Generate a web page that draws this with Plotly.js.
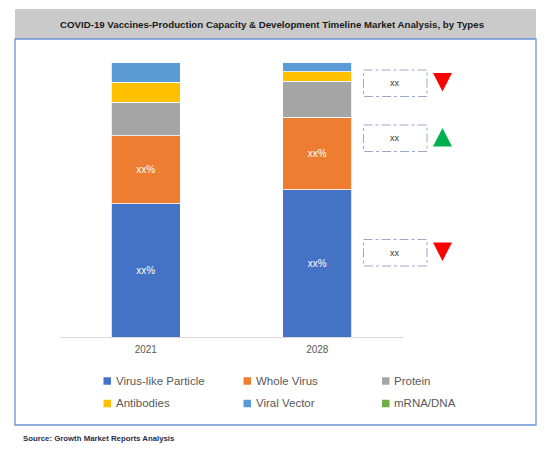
<!DOCTYPE html>
<html>
<head>
<meta charset="utf-8">
<script src="https://cdn.plot.ly/plotly-3.0.1.min.js"></script>
<style>html,body{margin:0;padding:0;background:#fff;}#chart{width:556px;height:449px;}</style>
</head>
<body>
<div id="chart"></div>
<script>
// ---- data ----
var years = ['2021', '2028'];
var seriesNames = ['Virus-like Particle', 'Whole Virus', 'Protein', 'Antibodies', 'Viral Vector', 'mRNA/DNA'];
var seriesColors = ['#4472C4', '#ED7D31', '#A5A5A5', '#FFC000', '#5B9BD5', '#70AD47'];
var virusLike   = [48.4, 53.5];
var wholeVirus  = [24.7, 26.4];
var protein     = [12.2, 13.1];
var antibodies  = [7.4, 3.5];
var viralVector = [7.3, 3.5];
var mrnaDna     = [0, 0];
var barLabels   = ['xx%', 'xx%'];
var calloutLabels = ['xx', 'xx', 'xx'];
var calloutTrend  = ['down', 'up', 'down'];
var titleText = 'COVID-19 Vaccines-Production Capacity & Development Timeline Market Analysis, by Types';
var sourceText = 'Source: Growth Market Reports Analysis';

var seriesValues = [virusLike, wholeVirus, protein, antibodies, viralVector, mrnaDna];
var labelled = [true, true, false, false, false, false];

// ---- layout helpers (pixel -> paper) ----
var W = 556, H = 449;
var M = {l: 60, r: 153, t: 62, b: 112};
var PW = W - M.l - M.r, PH = H - M.t - M.b;
function px(x) { return (x - M.l) / PW; }
function py(y) { return (H - M.b - y) / PH; }

var traces = seriesNames.map(function (name, i) {
  return {
    type: 'bar',
    name: name,
    x: years,
    y: seriesValues[i],
    width: 0.4,
    marker: {color: seriesColors[i], line: {color: '#ffffff', width: 0.8}},
    text: labelled[i] ? barLabels : years.map(function () { return ''; }),
    textposition: 'inside',
    insidetextanchor: 'middle',
    textangle: 0,
    textfont: {color: '#ffffff', size: 10, family: 'Liberation Sans, Arial, sans-serif'},
    hoverinfo: 'x+y+name',
    showlegend: false
  };
});

var shapes = [];
var annotations = [];

// frame and title band
shapes.push({type: 'rect', xref: 'paper', yref: 'paper', layer: 'below',
  x0: px(15), x1: px(536), y0: py(9), y1: py(39),
  fillcolor: '#CACACA', line: {width: 0}});
shapes.push({type: 'rect', xref: 'paper', yref: 'paper', layer: 'below',
  x0: px(15), x1: px(536), y0: py(39), y1: py(425),
  fillcolor: 'rgba(0,0,0,0)', line: {color: '#6C93D6', width: 1.3}});

annotations.push({xref: 'paper', yref: 'paper', x: px(272), y: py(24), text: '<b>' + titleText.replace('&', '&amp;') + '</b>',
  showarrow: false, xanchor: 'center', yanchor: 'middle',
  font: {size: 9.7, color: '#1a1a1a', family: 'Liberation Sans Narrow, Liberation Sans, Arial, sans-serif'}});
annotations.push({xref: 'paper', yref: 'paper', x: px(21), y: py(438), text: '<b>' + sourceText + '</b>',
  showarrow: false, xanchor: 'left', yanchor: 'middle',
  font: {size: 7.8, color: '#1F2F4F', family: 'Liberation Sans Narrow, Liberation Sans, Arial, sans-serif'}});

// callout boxes with trend triangles
var boxTops = [70, 125, 239.5];
calloutLabels.forEach(function (lab, i) {
  var t = boxTops[i], b = t + 26.5;
  shapes.push({type: 'rect', xref: 'paper', yref: 'paper',
    x0: px(363.5), x1: px(427), y0: py(t), y1: py(b),
    fillcolor: 'rgba(0,0,0,0)', line: {color: '#9AAAC8', width: 1, dash: 'dashdot'}});
  annotations.push({xref: 'paper', yref: 'paper', x: px(395), y: py((t + b) / 2), text: lab,
    showarrow: false, xanchor: 'center', yanchor: 'middle',
    font: {size: 9, color: '#333333', family: 'Liberation Sans, Arial, sans-serif'}});
  var cx = 442.5, ty = t + 3, by = t + 21.5, hw = 9.5;
  var path, col;
  if (calloutTrend[i] === 'down') {
    path = 'M' + px(cx - hw) + ',' + py(ty) + ' L' + px(cx + hw) + ',' + py(ty) + ' L' + px(cx) + ',' + py(by) + ' Z';
    col = '#FF0000';
  } else {
    path = 'M' + px(cx - hw) + ',' + py(by) + ' L' + px(cx + hw) + ',' + py(by) + ' L' + px(cx) + ',' + py(ty) + ' Z';
    col = '#00B050';
  }
  shapes.push({type: 'path', xref: 'paper', yref: 'paper', path: path, fillcolor: col, line: {width: 0}});
});

// manual legend (3 columns x 2 rows)
var legCols = [103.5, 243.5, 382];
var legRows = [381, 403.5];
seriesNames.forEach(function (name, i) {
  var cx = legCols[i % 3], cy = legRows[Math.floor(i / 3)];
  shapes.push({type: 'rect', xref: 'paper', yref: 'paper',
    x0: px(cx), x1: px(cx + 7.5), y0: py(cy - 3.75), y1: py(cy + 3.75),
    fillcolor: seriesColors[i], line: {width: 0}});
  annotations.push({xref: 'paper', yref: 'paper', x: px(cx + 10), y: py(cy), text: name,
    showarrow: false, xanchor: 'left', yanchor: 'middle',
    font: {size: 11.5, color: '#595959', family: 'Liberation Sans Narrow, Liberation Sans, Arial, sans-serif'}});
});

var layout = {
  width: W, height: H,
  margin: M,
  paper_bgcolor: '#ffffff',
  plot_bgcolor: '#ffffff',
  barmode: 'stack',
  bargap: 0.6,
  showlegend: false,
  xaxis: {
    type: 'category', range: [-0.5, 1.5], fixedrange: true,
    showline: true, linecolor: '#D9D9D9', linewidth: 1.2,
    showgrid: false, zeroline: false, ticks: '', ticklabelstandoff: 3,
    tickfont: {size: 10, color: '#595959', family: 'Liberation Sans, Arial, sans-serif'}
  },
  yaxis: {
    range: [0, 100], showgrid: false, zeroline: false, showline: false,
    showticklabels: false, ticks: '', fixedrange: true
  },
  shapes: shapes,
  annotations: annotations
};

Plotly.newPlot('chart', traces, layout, {displayModeBar: false, staticPlot: true});
</script>
</body>
</html>
